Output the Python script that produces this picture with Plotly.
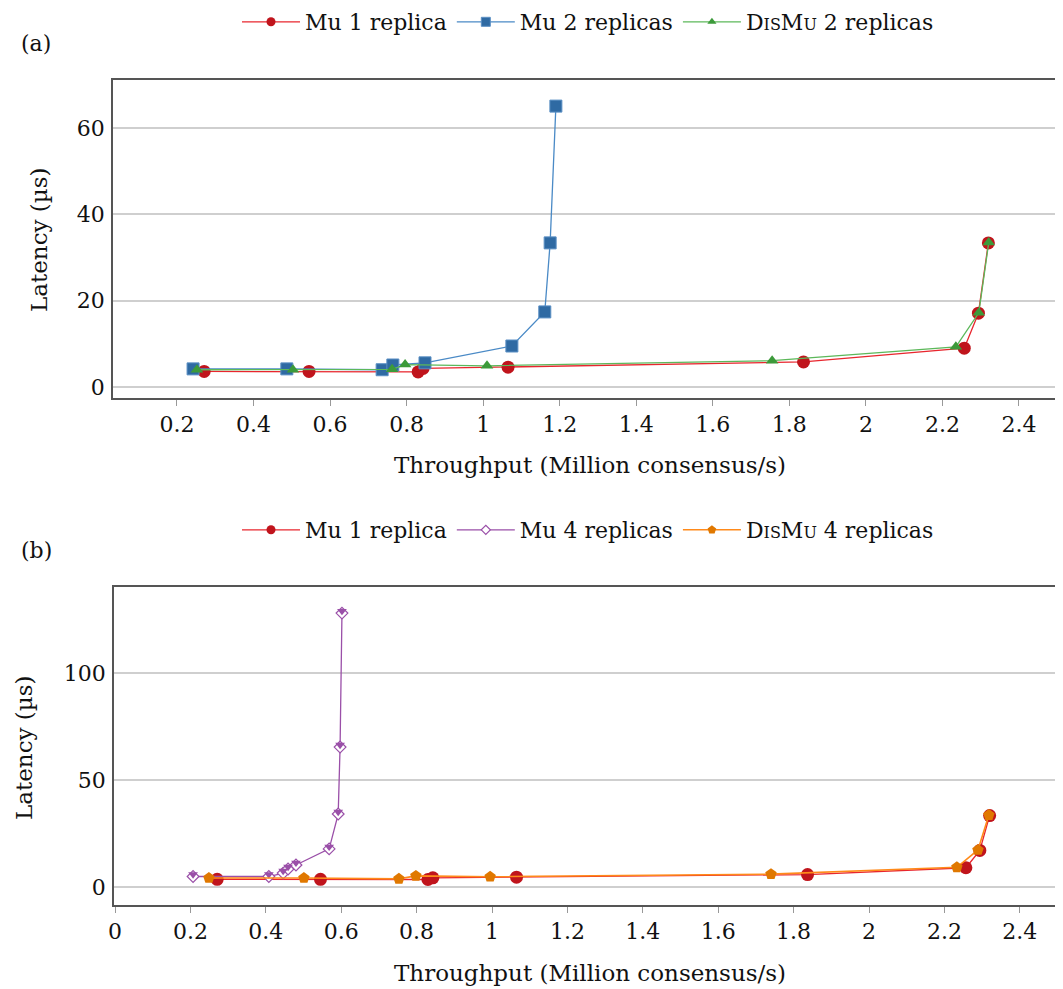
import plotly.graph_objects as go

# ---------------- data ----------------
mu1_x = [0.271, 0.545, 0.830, 0.843, 1.065, 1.837, 2.257, 2.294, 2.320]
mu1_y = [3.6, 3.6, 3.5, 4.3, 4.6, 5.8, 9.0, 17.1, 33.4]

mu2_x = [0.242, 0.487, 0.736, 0.764, 0.848, 1.075, 1.161, 1.175, 1.190]
mu2_y = [4.2, 4.2, 4.0, 5.1, 5.6, 9.5, 17.4, 33.4, 65.1]

dismu2_x = [0.252, 0.503, 0.762, 0.796, 1.010, 1.755, 2.235, 2.295, 2.321]
dismu2_y = [4.0, 4.0, 4.1, 5.2, 4.9, 6.1, 9.3, 17.2, 33.5]

mu4_x = [0.207, 0.408, 0.446, 0.459, 0.480, 0.568, 0.592, 0.597, 0.602]
mu4_y = [4.9, 4.9, 6.5, 8.4, 10.3, 17.8, 34.1, 65.4, 128.0]

dismu4_x = [0.249, 0.501, 0.753, 0.798, 0.995, 1.740, 2.233, 2.289, 2.318]
dismu4_y = [4.2, 4.2, 3.8, 5.2, 4.8, 6.0, 9.2, 17.3, 33.6]

xa_ticks = [0.2, 0.4, 0.6, 0.8, 1.0, 1.2, 1.4, 1.6, 1.8, 2.0, 2.2, 2.4]
xa_labels = ["0.2", "0.4", "0.6", "0.8", "1", "1.2", "1.4", "1.6", "1.8", "2", "2.2", "2.4"]
xb_ticks = [0.0] + xa_ticks
xb_labels = ["0"] + xa_labels
ya_ticks = [0, 20, 40, 60]
yb_ticks = [0, 50, 100]

FONT = "DejaVu Serif"
FS = 22
SC = "<span style='font-size:16px'>"
DISMU = "D" + SC + "IS</span>M" + SC + "U</span>"

RED_L, RED_M = "#e8262e", "#c0141c"
BLUE_L, BLUE_M = "#4a8ac6", "#2f6aa3"
GREEN_L, GREEN_M = "#5cb85a", "#3c9a3a"
PURP = "#9a4fa8"
ORG_L, ORG_M = "#ff8a1a", "#e07800"

fig = go.Figure()


def series(x, y, name, line, marker, xa, ya, leg, lmarker):
    # data trace (markers at full size)
    fig.add_trace(go.Scatter(x=x, y=y, mode="lines+markers", name=name, line=line,
                             marker=marker, xaxis=xa, yaxis=ya, showlegend=False))
    # legend entry with smaller marker
    fig.add_trace(go.Scatter(x=[None], y=[None], mode="lines+markers", name=name, line=line,
                             marker=lmarker, xaxis=xa, yaxis=ya, legend=leg))


# ---- panel (a) ----
series(mu1_x, mu1_y, "Mu 1 replica", dict(color=RED_L, width=1.3),
       dict(symbol="circle", size=13, color=RED_M), "x", "y", "legend",
       dict(symbol="circle", size=9, color=RED_M))
series(mu2_x, mu2_y, "Mu 2 replicas", dict(color=BLUE_L, width=1.3),
       dict(symbol="square", size=12, color=BLUE_M, line=dict(color="#5a8fc4", width=1)),
       "x", "y", "legend",
       dict(symbol="square", size=9, color=BLUE_M, line=dict(color="#5a8fc4", width=1)))
series(dismu2_x, dismu2_y, DISMU + " 2 replicas", dict(color=GREEN_L, width=1.3),
       dict(symbol="triangle-up", size=11, color=GREEN_M), "x", "y", "legend",
       dict(symbol="triangle-up", size=8, color=GREEN_M))

# ---- panel (b) ----
series(mu1_x, mu1_y, "Mu 1 replica", dict(color=RED_L, width=1.3),
       dict(symbol="circle", size=13, color=RED_M), "x2", "y2", "legend2",
       dict(symbol="circle", size=9, color=RED_M))
series(mu4_x, mu4_y, "Mu 4 replicas", dict(color=PURP, width=1.3),
       dict(symbol="diamond", size=9, color="white", line=dict(color=PURP, width=1.2)),
       "x2", "y2", "legend2",
       dict(symbol="diamond", size=7, color="white", line=dict(color=PURP, width=1.2)))
fig.add_trace(go.Scatter(x=mu4_x, y=mu4_y, mode="markers", showlegend=False,
                         marker=dict(symbol="triangle-up", angle=180, standoff=2.1, size=8.5,
                                     color=PURP, line=dict(width=0)),
                         xaxis="x2", yaxis="y2", hoverinfo="skip"))
series(dismu4_x, dismu4_y, DISMU + " 4 replicas", dict(color=ORG_L, width=1.6),
       dict(symbol="pentagon", size=12, color=ORG_M), "x2", "y2", "legend2",
       dict(symbol="pentagon", size=9, color=ORG_M))

W, H = 1063, 989
OFF = 8  # page body margin of the browser


def fx(sx):
    return (sx - OFF) / W


def fy(sy):
    return 1 - (sy - OFF) / H


axis_common = dict(showline=True, linecolor="#555555", linewidth=1.5,
                   tickfont=dict(family=FONT, size=FS, color="#111111"),
                   zeroline=False, automargin=False)

legend_common = dict(orientation="h", xref="container", yref="container",
                     xanchor="center", yanchor="middle",
                     font=dict(family=FONT, size=FS), bgcolor="rgba(0,0,0,0)",
                     itemwidth=58, traceorder="normal")

fig.update_layout(
    width=W, height=H,
    margin=dict(l=0, r=0, t=0, b=0, autoexpand=False),
    paper_bgcolor="white", plot_bgcolor="white",
    font=dict(family=FONT, size=FS, color="#111111"),
    xaxis=dict(domain=[fx(113), 1.0], range=[0.0328, 2.5359], anchor="y",
               tickvals=xa_ticks, ticktext=xa_labels, ticks="outside", ticklen=6,
               tickcolor="#999999", showgrid=False, mirror=True, **axis_common),
    yaxis=dict(domain=[fy(398), fy(80)], range=[-2.55, 71.15], anchor="x",
               tickvals=ya_ticks, ticks="", ticklabelstandoff=2,
               showgrid=True, gridcolor="#cfcfcf", gridwidth=1.5, **axis_common),
    xaxis2=dict(domain=[fx(114), 1.0], range=[-0.0027, 2.5358], anchor="y2",
                tickvals=xb_ticks, ticktext=xb_labels, ticks="outside", ticklen=6,
                tickcolor="#999999", showgrid=False, mirror=True, **axis_common),
    yaxis2=dict(domain=[fy(905), fy(587)], range=[-8.41, 140.2], anchor="x2",
                tickvals=yb_ticks, ticks="", ticklabelstandoff=2,
                showgrid=True, gridcolor="#cfcfcf", gridwidth=1.5, **axis_common),
    legend=dict(x=fx(588), y=fy(22), **legend_common),
    legend2=dict(x=fx(588), y=fy(530), **legend_common),
    annotations=[
        dict(text="(a)", x=fx(36), y=fy(43), xref="paper", yref="paper", showarrow=False,
             xanchor="center", yanchor="middle", font=dict(family=FONT, size=FS)),
        dict(text="(b)", x=fx(36), y=fy(550), xref="paper", yref="paper", showarrow=False,
             xanchor="center", yanchor="middle", font=dict(family=FONT, size=FS)),
        dict(text="Throughput (Million consensus/s)", x=fx(590), y=fy(465), xref="paper",
             yref="paper", showarrow=False, xanchor="center", yanchor="middle",
             font=dict(family=FONT, size=23)),
        dict(text="Throughput (Million consensus/s)", x=fx(590), y=fy(973), xref="paper",
             yref="paper", showarrow=False, xanchor="center", yanchor="middle",
             font=dict(family=FONT, size=23)),
        dict(text="Latency (µs)", x=fx(39), y=fy(240), xref="paper", yref="paper",
             showarrow=False, textangle=-90, xanchor="center", yanchor="middle",
             font=dict(family=FONT, size=23)),
        dict(text="Latency (µs)", x=fx(24), y=fy(748), xref="paper", yref="paper",
             showarrow=False, textangle=-90, xanchor="center", yanchor="middle",
             font=dict(family=FONT, size=23)),
    ],
)

fig.write_html("out.html")
